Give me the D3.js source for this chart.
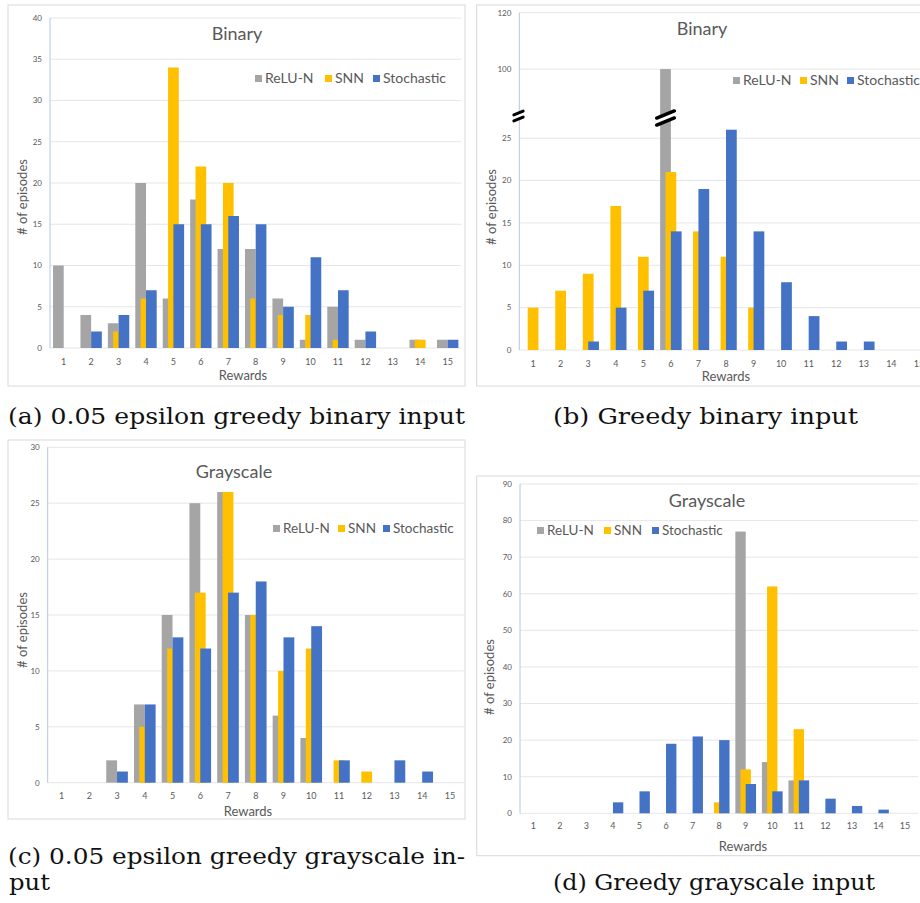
<!DOCTYPE html>
<html>
<head>
    <title>Rewards histograms</title>
    <script src="https://d3js.org/d3.v7.min.js"></script>
    <style>
        body { margin: 0; background: #fff; }
        svg text { font-family: Lato, "Open Sans", sans-serif; fill: #595959; }
        svg text.caption { font-family: "DejaVu Serif", serif; fill: #111; }
    </style>
</head>
<body>
    <svg id="chart" width="920" height="903"></svg>
    <script>
        // data
        const rewards = [1, 2, 3, 4, 5, 6, 7, 8, 9, 10, 11, 12, 13, 14, 15];
        const seriesNames = ["ReLU-N", "SNN", "Stochastic"];

        // (a) 0.05 epsilon greedy, binary
        const aRelu = [10, 4, 3, 20, 6, 18, 12, 12, 6, 1, 5, 1, 0, 1, 1];
        const aSnn = [0, 0, 2, 6, 34, 22, 20, 6, 4, 4, 1, 0, 0, 1, 0];
        const aStoch = [0, 2, 4, 7, 15, 15, 16, 15, 5, 11, 7, 2, 0, 0, 1];
        // (b) greedy, binary
        const bRelu = [0, 0, 0, 0, 0, 100, 0, 0, 0, 0, 0, 0, 0, 0, 0];
        const bSnn = [5, 7, 9, 17, 11, 21, 14, 11, 5, 0, 0, 0, 0, 0, 0];
        const bStoch = [0, 0, 1, 5, 7, 14, 19, 26, 14, 8, 4, 1, 1, 0, 0];
        // (c) 0.05 epsilon greedy, grayscale
        const cRelu = [0, 0, 2, 7, 15, 25, 26, 15, 6, 4, 0, 0, 0, 0, 0];
        const cSnn = [0, 0, 0, 5, 12, 17, 26, 15, 10, 12, 2, 1, 0, 0, 0];
        const cStoch = [0, 0, 1, 7, 13, 12, 17, 18, 13, 14, 2, 0, 2, 1, 0];
        // (d) greedy, grayscale
        const dRelu = [0, 0, 0, 0, 0, 0, 0, 0, 77, 14, 9, 0, 0, 0, 0];
        const dSnn = [0, 0, 0, 0, 0, 0, 0, 3, 12, 62, 23, 0, 0, 0, 0];
        const dStoch = [0, 0, 0, 3, 6, 19, 21, 20, 8, 6, 9, 4, 2, 1, 0];

        const aTicks = [0, 5, 10, 15, 20, 25, 30, 35, 40];
        const bTicks = [0, 5, 10, 15, 20, 25, 100, 120];
        const cTicks = [0, 5, 10, 15, 20, 25, 30];
        const dTicks = [0, 10, 20, 30, 40, 50, 60, 70, 80, 90];

        const colors = ["#a5a5a5", "#ffc000", "#4472c4"];

        const svg = d3.select("#chart");
        svg.append("rect").attr("width", 920).attr("height", 903).attr("fill", "#fff");

        function drawPanel(p) {
            const g = svg.append("g");
            // chart frame
            g.append("rect")
                .attr("x", p.box[0]).attr("y", p.box[1])
                .attr("width", p.box[2] - p.box[0]).attr("height", p.box[3] - p.box[1])
                .attr("fill", "#fff").attr("stroke", "#d9d9d9").attr("stroke-width", 1);

            const x = d3.scaleBand().domain(rewards).range([p.left, p.right]).padding(0);
            const y = p.y;
            const w = x.bandwidth() * 0.39;

            // gridlines
            g.append("g").selectAll("line")
                .data(p.ticks)
                .join("line")
                .attr("x1", p.left).attr("x2", p.right)
                .attr("y1", d => y(d)).attr("y2", d => y(d))
                .attr("stroke", "#e6e6e6").attr("stroke-width", 1);

            // y tick labels
            g.append("g").selectAll("text")
                .data(p.ticks)
                .join("text")
                .attr("x", p.left - 8).attr("y", d => y(d))
                .attr("dy", "0.35em")
                .attr("text-anchor", "end")
                .attr("font-size", 8)
                .text(d => d);

            // y axis line
            g.append("line")
                .attr("x1", p.left).attr("x2", p.left)
                .attr("y1", y(p.ticks[p.ticks.length - 1])).attr("y2", y(0))
                .attr("stroke", "#b4c6e7").attr("stroke-width", 1);

            // bars: gray, then yellow overlapping half, then blue
            p.values.forEach((vals, si) => {
                g.append("g").selectAll("rect")
                    .data(vals.map((v, i) => ({ r: rewards[i], v: v })).filter(d => d.v > 0))
                    .join("rect")
                    .attr("x", d => x(d.r) + x.bandwidth() / 2 - w + si * w / 2)
                    .attr("y", d => y(d.v))
                    .attr("width", w)
                    .attr("height", d => y(0) - y(d.v))
                    .attr("fill", colors[si]);
            });

            // x tick labels
            g.append("g").selectAll("text")
                .data(rewards)
                .join("text")
                .attr("x", d => x(d) + x.bandwidth() / 2)
                .attr("y", p.xTickY)
                .attr("text-anchor", "middle")
                .attr("font-size", 9)
                .text(d => d);

            g.append("text")
                .attr("x", p.xLabel[0]).attr("y", p.xLabel[1])
                .attr("text-anchor", "middle").attr("font-size", 13)
                .text("Rewards");

            g.append("text")
                .attr("transform", `translate(${p.yLabel[0]},${p.yLabel[1]}) rotate(-90)`)
                .attr("text-anchor", "middle").attr("dy", "0.35em").attr("font-size", 13)
                .text("# of episodes");

            g.append("text")
                .attr("x", p.title[0]).attr("y", p.title[1])
                .attr("text-anchor", "middle").attr("font-size", 18)
                .text(p.titleText);

            // legend
            const leg = g.append("g");
            seriesNames.forEach((name, i) => {
                leg.append("rect")
                    .attr("x", p.legend[i]).attr("y", p.legendY - 8)
                    .attr("width", 7).attr("height", 7)
                    .attr("fill", colors[i]);
                leg.append("text")
                    .attr("x", p.legend[i] + 10).attr("y", p.legendY)
                    .attr("font-size", p.legendSize)
                    .text(name);
            });
            return { g, x, y, w };
        }

        drawPanel({
            box: [8, 5, 465, 386], left: 50, right: 461.4,
            y: d3.scaleLinear().domain([0, 40]).range([348, 18]),
            ticks: aTicks, values: [aRelu, aSnn, aStoch],
            xTickY: 365, xLabel: [243, 380], yLabel: [22, 197],
            title: [237, 40], titleText: "Binary",
            legend: [255, 325, 373], legendY: 83, legendSize: 14
        });

        const pb = drawPanel({
            box: [476.7, 5, 935, 386], left: 519.3, right: 932.7,
            y: d3.scaleLinear().domain([0, 27.5, 83, 120]).range([350, 117, 117, 12.7]),
            ticks: bTicks, values: [bRelu, bSnn, bStoch],
            xTickY: 367, xLabel: [726, 381], yLabel: [491, 207],
            title: [702, 35], titleText: "Binary",
            legend: [733, 800, 847], legendY: 85, legendSize: 14
        });

        drawPanel({
            box: [8, 440, 465, 819], left: 47.7, right: 463.8,
            y: d3.scaleLinear().domain([0, 30]).range([782.7, 447.3]),
            ticks: cTicks, values: [cRelu, cSnn, cStoch],
            xTickY: 799, xLabel: [248, 816], yLabel: [22, 630],
            title: [234, 478], titleText: "Grayscale",
            legend: [273, 338, 383], legendY: 533, legendSize: 13.5
        });

        drawPanel({
            box: [476.7, 476, 935, 855.7], left: 520, right: 918.3,
            y: d3.scaleLinear().domain([0, 90]).range([813.3, 484]),
            ticks: dTicks, values: [dRelu, dSnn, dStoch],
            xTickY: 829, xLabel: [743, 851], yLabel: [489, 677],
            title: [707, 507], titleText: "Grayscale",
            legend: [537, 604, 652], legendY: 535, legendSize: 13.5
        });

        // axis break marks on panel (b)
        function breakMark(cx, cy, len, gap, sw) {
            const ang = -22 * Math.PI / 180;
            const dx = Math.cos(ang) * len / 2, dy = Math.sin(ang) * len / 2;
            const m = svg.append("g");
            m.append("polygon")
                .attr("points", [
                    [cx - dx, cy - dy - gap / 2], [cx + dx, cy + dy - gap / 2],
                    [cx + dx, cy + dy + gap / 2], [cx - dx, cy - dy + gap / 2]
                ].map(q => q.join(",")).join(" "))
                .attr("fill", "#fff");
            [-gap / 2, gap / 2].forEach(o => {
                m.append("line")
                    .attr("x1", cx - dx).attr("y1", cy - dy + o)
                    .attr("x2", cx + dx).attr("y2", cy + dy + o)
                    .attr("stroke", "#000").attr("stroke-width", sw)
                    .attr("stroke-linecap", "round");
            });
        }
        breakMark(518.5, 116, 10, 6, 3);
        breakMark(pb.x(6) + pb.x.bandwidth() / 2 - pb.w / 2, 118, 19, 7, 3.5);

        // sub-figure captions
        const captions = [
            { t: "(a) 0.05 epsilon greedy binary input", x: 8, y: 424, len: 457 },
            { t: "(b) Greedy binary input", x: 553, y: 424, len: 305 },
            { t: "(c) 0.05 epsilon greedy grayscale in-", x: 8, y: 864, len: 457 },
            { t: "put", x: 9, y: 890, len: 41 },
            { t: "(d) Greedy grayscale input", x: 553, y: 890, len: 322 }
        ];
        svg.append("g").selectAll("text")
            .data(captions)
            .join("text")
            .attr("class", "caption")
            .attr("x", d => d.x).attr("y", d => d.y)
            .attr("font-size", 21.5)
            .attr("textLength", d => d.len)
            .attr("lengthAdjust", "spacingAndGlyphs")
            .text(d => d.t);
    </script>
</body>
</html>
